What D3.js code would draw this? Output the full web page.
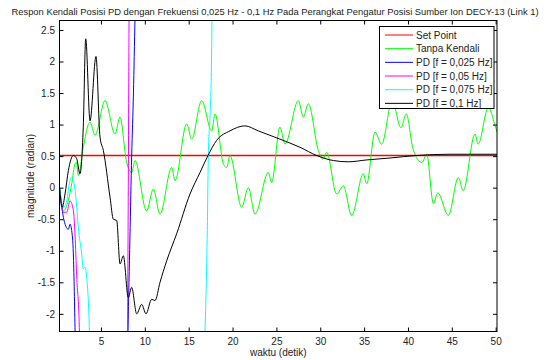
<!DOCTYPE html>
<html>
<head>
<meta charset="utf-8">
<script src="https://cdn.jsdelivr.net/npm/d3@7"></script>
<style>
  body { margin: 0; background: #fff; }
  text { font-family: "Liberation Sans", Arial, sans-serif; }
</style>
</head>
<body>
<div id="chart"></div>
<script>
// chart values
const titleText = "Respon Kendali Posisi PD dengan Frekuensi 0,025 Hz - 0,1 Hz Pada Perangkat Pengatur Posisi Sumber Ion DECY-13 (Link 1)";
const xTicks = [5, 10, 15, 20, 25, 30, 35, 40, 45, 50];
const yTicks = [-2, -1.5, -1, -0.5, 0, 0.5, 1, 1.5, 2, 2.5];
const legendNames = ["Set Point", "Tanpa Kendali", "PD [f = 0,025 Hz]", "PD [f = 0,05 Hz]", "PD [f = 0,075 Hz]", "PD [f = 0,1 Hz]"];
const colors = ["#ff0000", "#00ff00", "#0000ff", "#ff00ff", "#00ffff", "#000000"];

const setPointT = [0.27, 50.15];
const setPointY = [0.51, 0.51];

const greenT = [0.27, 0.71, 1.28, 1.66, 2.04, 2.2, 2.42, 2.98, 3.75, 4.32, 5.46, 6.6, 7.17, 7.9, 8.5, 8.88,
  10.2, 10.97, 11.73, 13.06, 13.44, 14.77, 15.34, 16.48, 17.62, 18.0, 18.95, 19.33, 19.7, 21.04, 21.8, 22.56,
  24.08, 24.46, 25.4, 25.98, 27.5, 28.07, 28.64, 29.78, 30.3, 30.73, 31.87, 32.63, 33.58, 34.91, 35.29, 36.24,
  37.0, 38.2, 39.2, 39.8, 40.6, 41.6, 42.13, 42.9, 43.4, 44.6, 45.74, 46.3, 47.64, 48.0, 49.16, 49.9, 50.15];
const greenY = [0.0, -0.37, -0.2, 0.06, 0.38, 0.4, 0.19, 0.64, 1.04, 0.83, 1.38, 0.85, 1.12, 0.42, 0.24, 0.43,
  -0.37, -0.02, -0.42, 0.32, 0.11, 1.01, 0.77, 1.38, 0.9, 1.17, 0.38, 0.32, 0.51, -0.31, 0.0, -0.42,
  0.24, 0.08, 0.96, 0.69, 1.38, 1.12, 1.33, 0.59, 0.45, 0.56, -0.1, 0.03, -0.44, 0.22, 0.06, 0.88,
  0.69, 1.38, 0.95, 1.17, 0.6, 0.4, 0.53, -0.25, -0.08, -0.44, 0.16, -0.05, 0.85, 0.69, 1.27, 1.0, 0.88];

const blueT = [0.27, 0.5, 0.71, 1.28, 1.47, 1.66, 1.85, 2.04, 2.15, 5.0, 8.0, 8.08, 8.3, 8.5, 8.7, 8.88, 9.0, 12.0];
const blueY = [0.0, -0.25, -0.47, -0.66, -0.58, -0.68, -1.05, -2.22, -3.0, -40, -3.0, -2.3, -0.8, 0.5, 1.5, 2.7, 3.5, 40];

const magentaT = [0.27, 0.5, 0.71, 1.09, 1.47, 1.85, 2.04, 2.23, 2.53, 2.65, 5.0, 7.95, 8.02, 8.12, 8.2, 8.3, 11.0];
const magentaY = [0.0, -0.3, -0.39, -0.39, -0.21, -0.36, -0.75, -1.4, -2.22, -3.0, -40, -3.0, -2.3, 0.2, 2.7, 4.0, 40];

const cyanT = [0.27, 0.5, 0.71, 1.09, 1.47, 1.66, 1.96, 2.23, 2.42, 2.8, 2.98, 3.18, 3.37, 3.67, 3.8, 10.0,
  16.7, 16.86, 17.12, 17.24, 17.45, 17.6, 17.65, 17.7, 22.0];
const cyanY = [0.0, -0.22, -0.31, -0.21, 0.12, 0.16, 0.04, -0.3, -0.63, -1.05, -1.29, -1.26, -1.42, -2.22, -3.0, -40,
  -3.0, -2.28, -0.68, 0.51, 1.2, 2.0, 2.7, 3.5, 40];

const blackT = [0.27, 0.59, 0.9, 1.28, 1.85, 2.23, 2.6, 2.98, 3.26, 3.75, 4.43, 4.89, 5.27, 6.03, 6.41, 6.79,
  7.17, 7.55, 8.11, 8.5, 9.07, 9.64, 10.13, 10.78, 11.16, 11.73, 12.49, 13.63, 15.15, 16.29, 17.2, 18.19,
  19.71, 21.4, 22.94, 25.4, 27.69, 29.59, 31.49, 33.2, 35.3, 37.95, 40.99, 44.79, 50.15];
const blackY = [0.0, -0.31, -0.1, 0.27, 0.51, 0.46, 0.22, 0.96, 2.36, 1.06, 2.08, 0.8, 0.59, -0.15, -0.5, -0.52,
  -1.21, -1.08, -1.74, -1.58, -2.0, -1.85, -2.0, -1.77, -1.79, -1.5, -1.16, -0.73, -0.1, 0.24, 0.51, 0.75,
  0.9, 0.98, 0.9, 0.77, 0.64, 0.51, 0.43, 0.41, 0.44, 0.47, 0.51, 0.53, 0.53];

// drawing order: set point first, then the responses
const series = [
  [setPointT, setPointY, 0, 1.6],
  [greenT, greenY, 1, 1],
  [blueT, blueY, 2, 1],
  [magentaT, magentaY, 3, 1],
  [cyanT, cyanY, 4, 1],
  [blackT, blackY, 5, 1]
];

const W = 549, H = 360;
const plot = { left: 59.5, top: 20.5, right: 497, bottom: 331.5 };

const svg = d3.select("#chart").append("svg")
  .attr("width", W).attr("height", H);

const x = d3.scaleLinear().domain([0.27, 50.15]).range([plot.left, plot.right]);
const y = d3.scaleLinear().domain([-2.28, 2.65]).range([plot.bottom, plot.top]);

svg.append("clipPath").attr("id", "clip")
  .append("rect")
  .attr("x", plot.left).attr("y", plot.top)
  .attr("width", plot.right - plot.left).attr("height", plot.bottom - plot.top);

const line = d3.line()
  .x(d => x(d[0]))
  .y(d => y(d[1]))
  .curve(d3.curveMonotoneX);

const lines = svg.append("g").attr("clip-path", "url(#clip)");

series.forEach(s => {
  const pts = s[0].map((t, k) => [t, s[1][k]]);
  lines.append("path")
    .datum(pts)
    .attr("fill", "none")
    .style("stroke", colors[s[2]])
    .attr("stroke-width", s[3])
    .attr("d", line);
});

// axes, ticks inside on all four sides
const axB = svg.append("g").attr("transform", `translate(0,${plot.bottom})`)
  .call(d3.axisBottom(x).tickValues(xTicks).tickSizeInner(-4).tickSizeOuter(0).tickPadding(6).tickFormat(d3.format("d")));
const axL = svg.append("g").attr("transform", `translate(${plot.left},0)`)
  .call(d3.axisLeft(y).tickValues(yTicks).tickSizeInner(-4).tickSizeOuter(0).tickPadding(4.5).tickFormat(d => d));
const axT = svg.append("g").attr("transform", `translate(0,${plot.top})`)
  .call(d3.axisTop(x).tickValues(xTicks).tickSizeInner(-4).tickSizeOuter(0).tickFormat(""));
const axR = svg.append("g").attr("transform", `translate(${plot.right},0)`)
  .call(d3.axisRight(y).tickValues(yTicks).tickSizeInner(-4).tickSizeOuter(0).tickFormat(""));

[axB, axL, axT, axR].forEach(a => {
  a.select(".domain").remove();
  a.selectAll(".tick line").attr("stroke", "#000");
  a.selectAll("text").attr("font-size", 10).attr("fill", "#222")
    .attr("font-family", "'Liberation Sans', Arial, sans-serif");
});

svg.append("rect")
  .attr("x", plot.left).attr("y", plot.top)
  .attr("width", plot.right - plot.left).attr("height", plot.bottom - plot.top)
  .attr("fill", "none").attr("stroke", "#000").attr("stroke-width", 1);

const title = svg.append("text")
  .attr("x", 275).attr("y", 15)
  .attr("text-anchor", "middle").attr("font-size", 10).attr("fill", "#222")
  .text(titleText);
const tLen = title.node().getComputedTextLength();
if (tLen > 0) title.attr("font-size", 10 * 528 / tLen);

svg.append("text")
  .attr("x", (plot.left + plot.right) / 2).attr("y", 356)
  .attr("text-anchor", "middle").attr("font-size", 10).attr("fill", "#222")
  .text("waktu (detik)");

svg.append("text")
  .attr("transform", `translate(34,${(plot.top + plot.bottom) / 2}) rotate(-90)`)
  .attr("text-anchor", "middle").attr("font-size", 10).attr("fill", "#222")
  .text("magnitude (radian)");

// legend
const leg = svg.append("g");
leg.append("rect")
  .attr("x", 379.5).attr("y", 26.5).attr("width", 114.5).attr("height", 82)
  .attr("fill", "#fff").attr("stroke", "#000").attr("stroke-width", 1);
legendNames.forEach((name, i) => {
  const yy = 35 + i * 13.67;
  leg.append("line")
    .attr("x1", 385).attr("x2", 413).attr("y1", yy).attr("y2", yy)
    .attr("stroke", colors[i]).attr("stroke-width", 1);
  leg.append("text")
    .attr("x", 416).attr("y", yy + 3.5)
    .attr("font-size", 10).attr("fill", "#222")
    .text(name);
});
</script>
</body>
</html>
